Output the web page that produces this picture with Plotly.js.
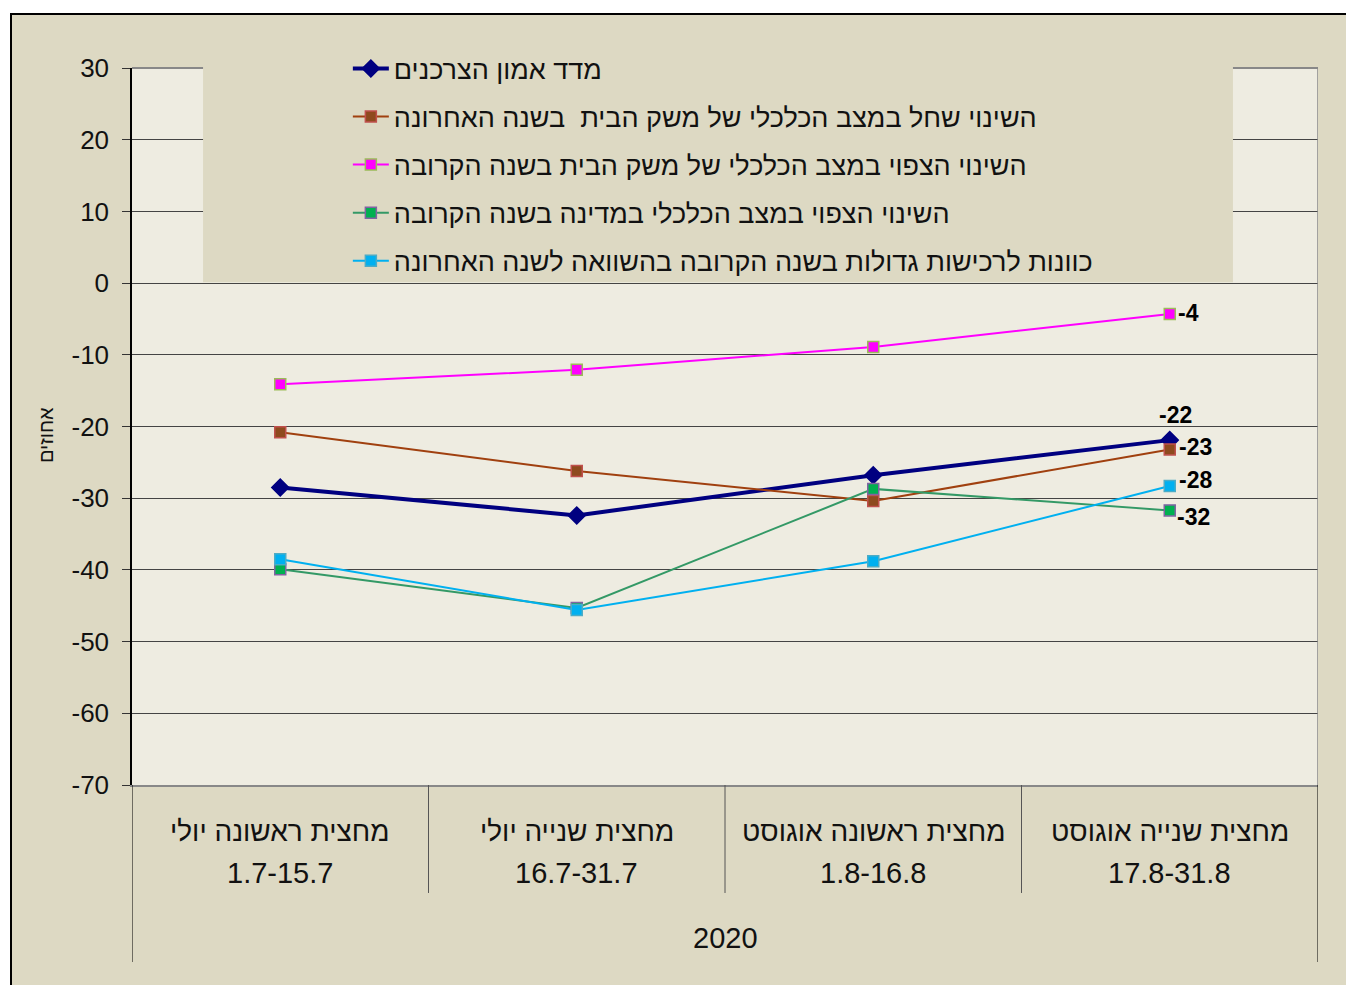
<!DOCTYPE html>
<html>
<head>
<meta charset="utf-8">
<script src="https://cdn.plot.ly/plotly-3.0.1.min.js"></script>
<style>
  html, body { margin: 0; padding: 0; background: #ffffff; }
  #frame { position: absolute; left: 10px; top: 13px; border-left: 2px solid #000; border-top: 2px solid #000; }
  #chart { width: 1334px; height: 970px; }
</style>
</head>
<body>
<div id="frame"><div id="chart"></div></div>
<script>
// ---- data ----
const categories = ['מחצית ראשונה יולי', 'מחצית שנייה יולי', 'מחצית ראשונה אוגוסט', 'מחצית שנייה אוגוסט'];
const dateRanges = ['1.7-15.7', '16.7-31.7', '1.8-16.8', '17.8-31.8'];
const yearLabel = '2020';
const yTitle = 'אחוזים';
const yTickValues = [-70, -60, -50, -40, -30, -20, -10, 0, 10, 20, 30];
const yTickLabels = ['-70', '-60', '-50', '-40', '-30', '-20', '-10', '0', '10', '20', '30'];

const seriesNames = [
  'מדד אמון הצרכנים',
  'השינוי שחל במצב הכלכלי של משק הבית  בשנה האחרונה',
  'השינוי הצפוי במצב הכלכלי של משק הבית בשנה הקרובה',
  'השינוי הצפוי במצב הכלכלי במדינה בשנה הקרובה',
  'כוונות לרכישות גדולות בשנה הקרובה בהשוואה לשנה האחרונה'
];
const consumerConfidence = [-28.5, -32.4, -26.8, -21.9];
const pastHousehold      = [-20.8, -26.2, -30.4, -23.2];
const expectedHousehold  = [-14.1, -12.1, -8.9, -4.3];
const expectedCountry    = [-39.9, -45.3, -28.7, -31.7];
const purchaseIntent     = [-38.5, -45.6, -38.8, -28.3];
const seriesValues = [consumerConfidence, pastHousehold, expectedHousehold, expectedCountry, purchaseIntent];

// ---- styles ----
const FONT = 'Liberation Sans, Arial, sans-serif';
const styles = [
  {line: '#000080', width: 4, symbol: 'diamond', size: 13, fill: '#000080', border: '#000080', lx: 6, ly: 25, anchor: 'center'},
  {line: '#A0400F', width: 2, symbol: 'square', size: 11, fill: '#8E4A1E', border: '#C0504D', lx: 7, ly: 2, anchor: 'left'},
  {line: '#FF00FF', width: 2, symbol: 'square', size: 11, fill: '#FF00FF', border: '#9BBB59', lx: 6, ly: 1, anchor: 'left'},
  {line: '#339966', width: 2, symbol: 'square', size: 11, fill: '#00B050', border: '#8064A2', lx: 5, ly: -7, anchor: 'left'},
  {line: '#00B0F0', width: 2, symbol: 'square', size: 11, fill: '#00B0F0', border: '#4BACC6', lx: 7, ly: 6, anchor: 'left'}
];

const traces = seriesValues.map((vals, i) => ({
  type: 'scatter',
  mode: 'lines+markers',
  name: seriesNames[i],
  legendgroup: 'g' + i,
  x: categories,
  y: vals,
  line: {color: styles[i].line, width: styles[i].width},
  marker: {symbol: styles[i].symbol, size: styles[i].size, color: styles[i].fill,
           line: {color: styles[i].border, width: 1.5}},
  hoverinfo: 'x+y+name'
}));

const annotations = [];
// category labels
categories.forEach((c, i) => {
  annotations.push({x: i, y: 0, xref: 'x', yref: 'paper', text: c, showarrow: false,
    yanchor: 'middle', yshift: -46, font: {family: FONT, size: 28, color: '#111'}});
  annotations.push({x: i, y: 0, xref: 'x', yref: 'paper', text: dateRanges[i], showarrow: false,
    yanchor: 'middle', yshift: -88, font: {family: FONT, size: 29, color: '#111'}});
});
annotations.push({x: (categories.length - 1) / 2, y: 0, xref: 'x', yref: 'paper', text: yearLabel, showarrow: false,
  yanchor: 'middle', yshift: -153, font: {family: FONT, size: 29, color: '#111'}});
// y-axis title
annotations.push({x: -0.0835, y: 0.488, xref: 'paper', yref: 'paper', text: yTitle, showarrow: false,
  textangle: -90, font: {family: FONT, size: 20, color: '#111'}});
// data labels on the last point
seriesValues.forEach((vals, i) => {
  const last = vals.length - 1;
  annotations.push({x: last, y: vals[last], xref: 'x', yref: 'y', text: String(Math.round(vals[last])),
    showarrow: false, xanchor: styles[i].anchor, yanchor: 'middle',
    xshift: styles[i].lx, yshift: styles[i].ly,
    font: {family: FONT, size: 23, color: '#000', weight: 'bold'}});
});

// separators
const n = categories.length;
const shapes = [];
for (let k = 0; k <= n; k++) {
  const edge = (k === 0 || k === n);
  shapes.push({type: 'line', xref: 'x', yref: 'paper', x0: k - 0.5, x1: k - 0.5, y0: 0, y1: -0.1506,
    line: {color: edge ? '#000' : '#555', width: 1}});
  if (edge) {
    shapes.push({type: 'line', xref: 'x', yref: 'paper', x0: k - 0.5, x1: k - 0.5, y0: -0.1506, y1: -0.2469,
      line: {color: '#000', width: 1}});
  }
}
// right and top plot border
shapes.push({type: 'line', xref: 'x', yref: 'paper', x0: n - 0.5, x1: n - 0.5, y0: 0, y1: 1,
  line: {color: '#888', width: 1.5}});
shapes.push({type: 'line', xref: 'paper', yref: 'paper', x0: 0, x1: 1, y0: 1, y1: 1,
  line: {color: '#888', width: 2}, layer: 'above'});
// legend box background (covers plot area above zero)
shapes.push({type: 'rect', xref: 'paper', yref: 'paper', x0: 0.0599, x1: 0.9283, y0: 0.7012, y1: 1.06,
  fillcolor: '#DDD9C3', line: {width: 0}, layer: 'above'});

const layout = {
  width: 1334, height: 970,
  paper_bgcolor: '#DDD9C3',
  plot_bgcolor: '#EEECE1',
  margin: {l: 120, r: 28, t: 53, b: 200},
  font: {family: FONT, color: '#111'},
  showlegend: true,
  legend: {x: 0.182, y: 1.033, xanchor: 'left', yanchor: 'top', bgcolor: 'rgba(0,0,0,0)',
           font: {family: FONT, size: 27, color: '#111'}, tracegroupgap: 10, itemwidth: 36},
  xaxis: {type: 'category', range: [-0.5, n - 0.5], showticklabels: false, ticks: '',
          showgrid: false, zeroline: false, showline: true, linecolor: '#888', linewidth: 1.5},
  yaxis: {range: [-70, 30], tickmode: 'array', tickvals: yTickValues, ticktext: yTickLabels,
          showgrid: true, gridcolor: '#444', gridwidth: 1,
          zeroline: false, showline: true, linecolor: '#000', linewidth: 1.5,
          ticks: 'outside', ticklen: 8, tickcolor: '#333', ticklabelstandoff: 8,
          tickfont: {family: FONT, size: 26, color: '#111'}},
  shapes: shapes,
  annotations: annotations
};

Plotly.newPlot('chart', traces, layout, {displayModeBar: false});
</script>
</body>
</html>
